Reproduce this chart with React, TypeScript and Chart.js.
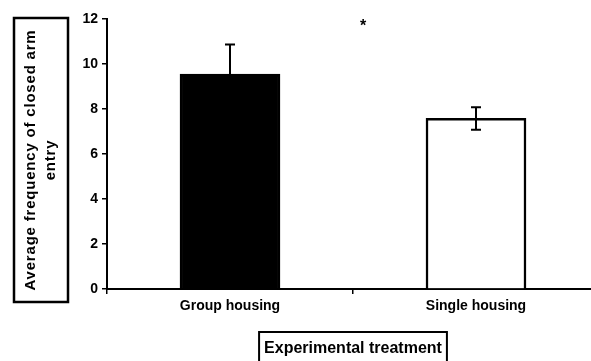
import { useEffect, useRef } from 'react';
import { Chart, registerables } from 'chart.js';

Chart.register(...registerables);

const categories = ['Group housing', 'Single housing'];
const means = [9.55, 7.58];
const sems = [1.32, 0.5];
const yMin = 0;
const yMax = 12;
const yStep = 2;
const barFill = ['#000000', '#ffffff'];
const yTitleLines = ['Average frequency of closed arm', 'entry'];
const xTitle = 'Experimental treatment';
const significanceMark = '*';
const significanceLevel = 11.8;

const FONT = '"Liberation Sans", Arial, sans-serif';

const decorPlugin = {
  id: 'decor',
  afterDatasetsDraw(chart: any) {
    const ctx = chart.ctx;
    const meta = chart.getDatasetMeta(0);
    const ys = chart.scales.y;
    ctx.save();
    ctx.strokeStyle = '#000';
    ctx.lineWidth = 2;
    meta.data.forEach((bar: any, i: number) => {
      const x = bar.x;
      const top = ys.getPixelForValue(means[i] + sems[i]);
      const bot = ys.getPixelForValue(means[i] - sems[i]);
      const cap = 5;
      ctx.beginPath();
      ctx.moveTo(x, top);
      ctx.lineTo(x, bot);
      ctx.moveTo(x - cap, top);
      ctx.lineTo(x + cap, top);
      ctx.moveTo(x - cap, bot);
      ctx.lineTo(x + cap, bot);
      ctx.stroke();
    });
    ctx.restore();
  },
  afterDraw(chart: any) {
    const ctx = chart.ctx;
    const area = chart.chartArea;
    const meta = chart.getDatasetMeta(0);
    ctx.save();
    // significance mark
    const mx = (meta.data[0].x + meta.data[1].x) / 2 + 10;
    const my = chart.scales.y.getPixelForValue(significanceLevel);
    ctx.fillStyle = '#000';
    ctx.font = `bold 16px ${FONT}`;
    ctx.textAlign = 'center';
    ctx.textBaseline = 'middle';
    ctx.fillText(significanceMark, mx, my + 3);

    // y title box
    ctx.strokeStyle = '#000';
    ctx.lineWidth = 2.5;
    ctx.strokeRect(14, 18, 54, 284);
    ctx.save();
    ctx.translate(41, 160);
    ctx.rotate(-Math.PI / 2);
    ctx.font = `bold 15px ${FONT}`;
    (ctx as any).letterSpacing = '0.8px';
    ctx.textAlign = 'center';
    ctx.textBaseline = 'middle';
    ctx.fillText(yTitleLines[0], 0, -10);
    ctx.fillText(yTitleLines[1], 0, 10);
    ctx.restore();

    // x title box
    const cx = (area.left + area.right) / 2;
    ctx.font = `bold 16px ${FONT}`;
    ctx.textAlign = 'center';
    ctx.textBaseline = 'alphabetic';
    const w = ctx.measureText(xTitle).width;
    ctx.lineWidth = 2;
    ctx.strokeRect(cx - w / 2 - 5, 332, w + 10, 40);
    ctx.fillText(xTitle, cx, 353);
    ctx.restore();
  },
};

export default function App() {
  const ref = useRef<HTMLCanvasElement | null>(null);
  useEffect(() => {
    if (!ref.current) return;
    const chart = new Chart(ref.current, {
      type: 'bar',
      data: {
        labels: categories,
        datasets: [
          {
            data: means,
            backgroundColor: barFill,
            borderColor: '#000',
            borderWidth: 2.5,
            borderSkipped: 'start',
            barThickness: 100,
          },
        ],
      },
      options: {
        animation: false,
        responsive: false,
        devicePixelRatio: 1,
        layout: { padding: { top: 19, right: 1, left: 0, bottom: 0 } },
        plugins: { legend: { display: false }, tooltip: { enabled: false } },
        scales: {
          x: {
            offset: true,
            grid: { drawOnChartArea: false, drawTicks: true, tickLength: 5, color: '#000', lineWidth: 1.5, offset: true },
            border: { display: true, color: '#000', width: 2 },
            ticks: { color: '#000', font: { family: FONT, size: 14, weight: 'bold' }, padding: 4 },
            afterFit: (s: any) => { s.height = 72; },
          },
          y: {
            min: yMin,
            max: yMax,
            grid: { drawOnChartArea: false, drawTicks: true, tickLength: 5, color: '#000', lineWidth: 1.5 },
            border: { display: true, color: '#000', width: 2 },
            ticks: { stepSize: yStep, color: '#000', font: { family: FONT, size: 14, weight: 'bold' }, padding: 4 },
            afterFit: (s: any) => { s.width = 107; },
          },
        },
      },
      plugins: [decorPlugin],
    } as any);
    return () => chart.destroy();
  }, []);
  return (
    <div style={{ position: 'absolute', left: 0, top: 0, width: 591, height: 361, overflow: 'hidden', background: '#fff' }}>
      <canvas ref={ref} width={600} height={361} style={{ display: 'block' }} />
    </div>
  );
}
